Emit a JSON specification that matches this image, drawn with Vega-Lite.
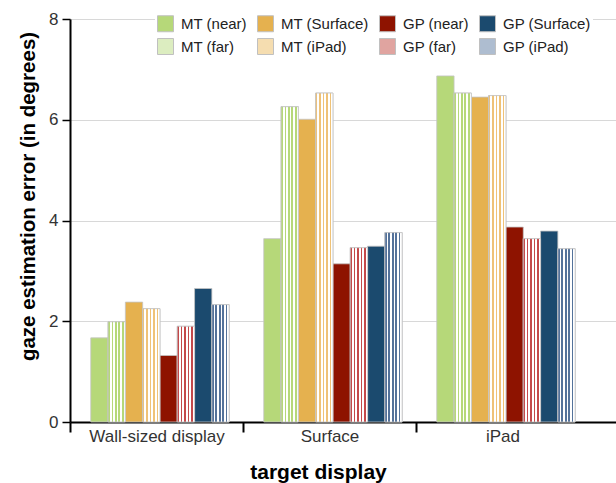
{
  "$schema": "https://vega.github.io/schema/vega-lite/v6.json",
  "width": 546,
  "height": 403,
  "autosize": {"type": "none"},
  "padding": {"left": 70, "top": 19, "right": 0, "bottom": 61},
  "config": {
    "font": "Liberation Sans",
    "view": {"stroke": null},
    "axis": {"labelFont": "Liberation Sans", "titleFont": "Liberation Sans"}
  },
  "data": {
    "values": [
      {"display": "Wall-sized display", "series": "MT (near)", "value": 1.67},
      {"display": "Wall-sized display", "series": "MT (far)", "value": 1.99},
      {"display": "Wall-sized display", "series": "MT (Surface)", "value": 2.38},
      {"display": "Wall-sized display", "series": "MT (iPad)", "value": 2.25},
      {"display": "Wall-sized display", "series": "GP (near)", "value": 1.32},
      {"display": "Wall-sized display", "series": "GP (far)", "value": 1.9},
      {"display": "Wall-sized display", "series": "GP (Surface)", "value": 2.65},
      {"display": "Wall-sized display", "series": "GP (iPad)", "value": 2.33},
      {"display": "Surface", "series": "MT (near)", "value": 3.64},
      {"display": "Surface", "series": "MT (far)", "value": 6.26},
      {"display": "Surface", "series": "MT (Surface)", "value": 6.01},
      {"display": "Surface", "series": "MT (iPad)", "value": 6.53},
      {"display": "Surface", "series": "GP (near)", "value": 3.14},
      {"display": "Surface", "series": "GP (far)", "value": 3.46},
      {"display": "Surface", "series": "GP (Surface)", "value": 3.49},
      {"display": "Surface", "series": "GP (iPad)", "value": 3.76},
      {"display": "iPad", "series": "MT (near)", "value": 6.87},
      {"display": "iPad", "series": "MT (far)", "value": 6.53},
      {"display": "iPad", "series": "MT (Surface)", "value": 6.45},
      {"display": "iPad", "series": "MT (iPad)", "value": 6.48},
      {"display": "iPad", "series": "GP (near)", "value": 3.87},
      {"display": "iPad", "series": "GP (far)", "value": 3.64},
      {"display": "iPad", "series": "GP (Surface)", "value": 3.79},
      {"display": "iPad", "series": "GP (iPad)", "value": 3.44}
    ]
  },
  "encoding": {
    "x": {
      "field": "display",
      "type": "nominal",
      "sort": ["Wall-sized display", "Surface", "iPad"],
      "scale": {"paddingInner": 0, "paddingOuter": 0.078, "align": 0},
      "axis": {
        "title": "target display",
        "titleFontSize": 21,
        "titleFontWeight": "bold",
        "titleColor": "#000000",
        "titlePadding": 17,
        "titleX": 248,
        "titleAlign": "center",
        "labelAngle": 0,
        "labelFontSize": 17,
        "labelColor": "#333333",
        "labelPadding": -4,
        "domainColor": "#000000",
        "domainWidth": 2,
        "tickColor": "#000000",
        "tickWidth": 2,
        "tickSize": 10,
        "tickBand": "extent",
        "tickOpacity": {"condition": {"test": "datum.value === 'iPad'", "value": 0}, "value": 1},
        "grid": false
      }
    },
    "xOffset": {
      "field": "series",
      "type": "nominal",
      "sort": ["MT (near)", "MT (far)", "MT (Surface)", "MT (iPad)", "GP (near)", "GP (far)", "GP (Surface)", "GP (iPad)"],
      "scale": {"paddingInner": 0, "paddingOuter": 1.21, "align": 0.6}
    },
    "y": {
      "field": "value",
      "type": "quantitative",
      "scale": {"domain": [0, 8]},
      "axis": {
        "title": "gaze estimation error (in degrees)",
        "titleFontSize": 20.5,
        "titleFontWeight": "bold",
        "titleColor": "#000000",
        "titlePadding": 10,
        "titleY": 177,
        "titleAlign": "center",
        "values": [0, 2, 4, 6, 8],
        "labelFontSize": 17,
        "labelColor": "#333333",
        "labelPadding": 4,
        "domainColor": "#000000",
        "domainWidth": 2,
        "tickColor": "#000000",
        "tickWidth": 1.5,
        "tickSize": 8,
        "grid": true,
        "gridColor": "#d8d8d8",
        "gridWidth": 1
      }
    }
  },
  "layer": [
    {
      "mark": {"type": "bar", "stroke": "#c4c4c4", "strokeWidth": 0.8},
      "encoding": {
        "color": {
          "field": "series",
          "type": "nominal",
          "scale": {
            "domain": ["MT (near)", "MT (Surface)", "GP (near)", "GP (Surface)", "MT (far)", "MT (iPad)", "GP (far)", "GP (iPad)"],
            "range": ["#b6d879", "#e5b14f", "#8e1300", "#1b4a6e", "#dcedc0", "#f5ddb0", "#e0a4a0", "#aebdd0"]
          },
          "legend": {
            "title": null,
            "orient": "none",
            "legendX": 85,
            "legendY": -6,
            "direction": "horizontal",
            "columns": 4,
            "columnPadding": 8,
            "rowPadding": 2,
            "padding": 2,
            "fillColor": "#ffffff",
            "symbolType": "square",
            "symbolSize": 256,
            "symbolStrokeColor": "#c0c0c0",
            "symbolStrokeWidth": 1,
            "symbolOpacity": 1,
            "labelFontSize": 15,
            "labelColor": "#222222",
            "labelOffset": 7,
            "labelLimit": 200
          }
        }
      }
    },
    {
      "transform": [{"filter": "datum.series === 'MT (far)'"}],
      "mark": {
        "type": "bar", "stroke": "#c4c4c4", "strokeWidth": 0.8,
        "fill": {"gradient": "linear", "x1": 0, "y1": 0, "x2": 1, "y2": 0, "stops": [
          {"offset": 0, "color": "#b6d879"}, {"offset": 0.1, "color": "#b6d879"}, {"offset": 0.1, "color": "#ffffff"}, {"offset": 0.2, "color": "#ffffff"},
          {"offset": 0.2, "color": "#b6d879"}, {"offset": 0.3, "color": "#b6d879"}, {"offset": 0.3, "color": "#ffffff"}, {"offset": 0.4, "color": "#ffffff"},
          {"offset": 0.4, "color": "#b6d879"}, {"offset": 0.5, "color": "#b6d879"}, {"offset": 0.5, "color": "#ffffff"}, {"offset": 0.6, "color": "#ffffff"},
          {"offset": 0.6, "color": "#b6d879"}, {"offset": 0.7, "color": "#b6d879"}, {"offset": 0.7, "color": "#ffffff"}, {"offset": 0.8, "color": "#ffffff"},
          {"offset": 0.8, "color": "#b6d879"}, {"offset": 0.9, "color": "#b6d879"}, {"offset": 0.9, "color": "#ffffff"}, {"offset": 1, "color": "#ffffff"}
        ]}
      }
    },
    {
      "transform": [{"filter": "datum.series === 'MT (iPad)'"}],
      "mark": {
        "type": "bar", "stroke": "#c4c4c4", "strokeWidth": 0.8,
        "fill": {"gradient": "linear", "x1": 0, "y1": 0, "x2": 1, "y2": 0, "stops": [
          {"offset": 0, "color": "#efc277"}, {"offset": 0.1, "color": "#efc277"}, {"offset": 0.1, "color": "#ffffff"}, {"offset": 0.2, "color": "#ffffff"},
          {"offset": 0.2, "color": "#efc277"}, {"offset": 0.3, "color": "#efc277"}, {"offset": 0.3, "color": "#ffffff"}, {"offset": 0.4, "color": "#ffffff"},
          {"offset": 0.4, "color": "#efc277"}, {"offset": 0.5, "color": "#efc277"}, {"offset": 0.5, "color": "#ffffff"}, {"offset": 0.6, "color": "#ffffff"},
          {"offset": 0.6, "color": "#efc277"}, {"offset": 0.7, "color": "#efc277"}, {"offset": 0.7, "color": "#ffffff"}, {"offset": 0.8, "color": "#ffffff"},
          {"offset": 0.8, "color": "#efc277"}, {"offset": 0.9, "color": "#efc277"}, {"offset": 0.9, "color": "#ffffff"}, {"offset": 1, "color": "#ffffff"}
        ]}
      }
    },
    {
      "transform": [{"filter": "datum.series === 'GP (far)'"}],
      "mark": {
        "type": "bar", "stroke": "#c4c4c4", "strokeWidth": 0.8,
        "fill": {"gradient": "linear", "x1": 0, "y1": 0, "x2": 1, "y2": 0, "stops": [
          {"offset": 0, "color": "#c4494a"}, {"offset": 0.1, "color": "#c4494a"}, {"offset": 0.1, "color": "#ffffff"}, {"offset": 0.2, "color": "#ffffff"},
          {"offset": 0.2, "color": "#c4494a"}, {"offset": 0.3, "color": "#c4494a"}, {"offset": 0.3, "color": "#ffffff"}, {"offset": 0.4, "color": "#ffffff"},
          {"offset": 0.4, "color": "#c4494a"}, {"offset": 0.5, "color": "#c4494a"}, {"offset": 0.5, "color": "#ffffff"}, {"offset": 0.6, "color": "#ffffff"},
          {"offset": 0.6, "color": "#c4494a"}, {"offset": 0.7, "color": "#c4494a"}, {"offset": 0.7, "color": "#ffffff"}, {"offset": 0.8, "color": "#ffffff"},
          {"offset": 0.8, "color": "#c4494a"}, {"offset": 0.9, "color": "#c4494a"}, {"offset": 0.9, "color": "#ffffff"}, {"offset": 1, "color": "#ffffff"}
        ]}
      }
    },
    {
      "transform": [{"filter": "datum.series === 'GP (iPad)'"}],
      "mark": {
        "type": "bar", "stroke": "#c4c4c4", "strokeWidth": 0.8,
        "fill": {"gradient": "linear", "x1": 0, "y1": 0, "x2": 1, "y2": 0, "stops": [
          {"offset": 0, "color": "#54729a"}, {"offset": 0.1, "color": "#54729a"}, {"offset": 0.1, "color": "#ffffff"}, {"offset": 0.2, "color": "#ffffff"},
          {"offset": 0.2, "color": "#54729a"}, {"offset": 0.3, "color": "#54729a"}, {"offset": 0.3, "color": "#ffffff"}, {"offset": 0.4, "color": "#ffffff"},
          {"offset": 0.4, "color": "#54729a"}, {"offset": 0.5, "color": "#54729a"}, {"offset": 0.5, "color": "#ffffff"}, {"offset": 0.6, "color": "#ffffff"},
          {"offset": 0.6, "color": "#54729a"}, {"offset": 0.7, "color": "#54729a"}, {"offset": 0.7, "color": "#ffffff"}, {"offset": 0.8, "color": "#ffffff"},
          {"offset": 0.8, "color": "#54729a"}, {"offset": 0.9, "color": "#54729a"}, {"offset": 0.9, "color": "#ffffff"}, {"offset": 1, "color": "#ffffff"}
        ]}
      }
    }
  ]
}
